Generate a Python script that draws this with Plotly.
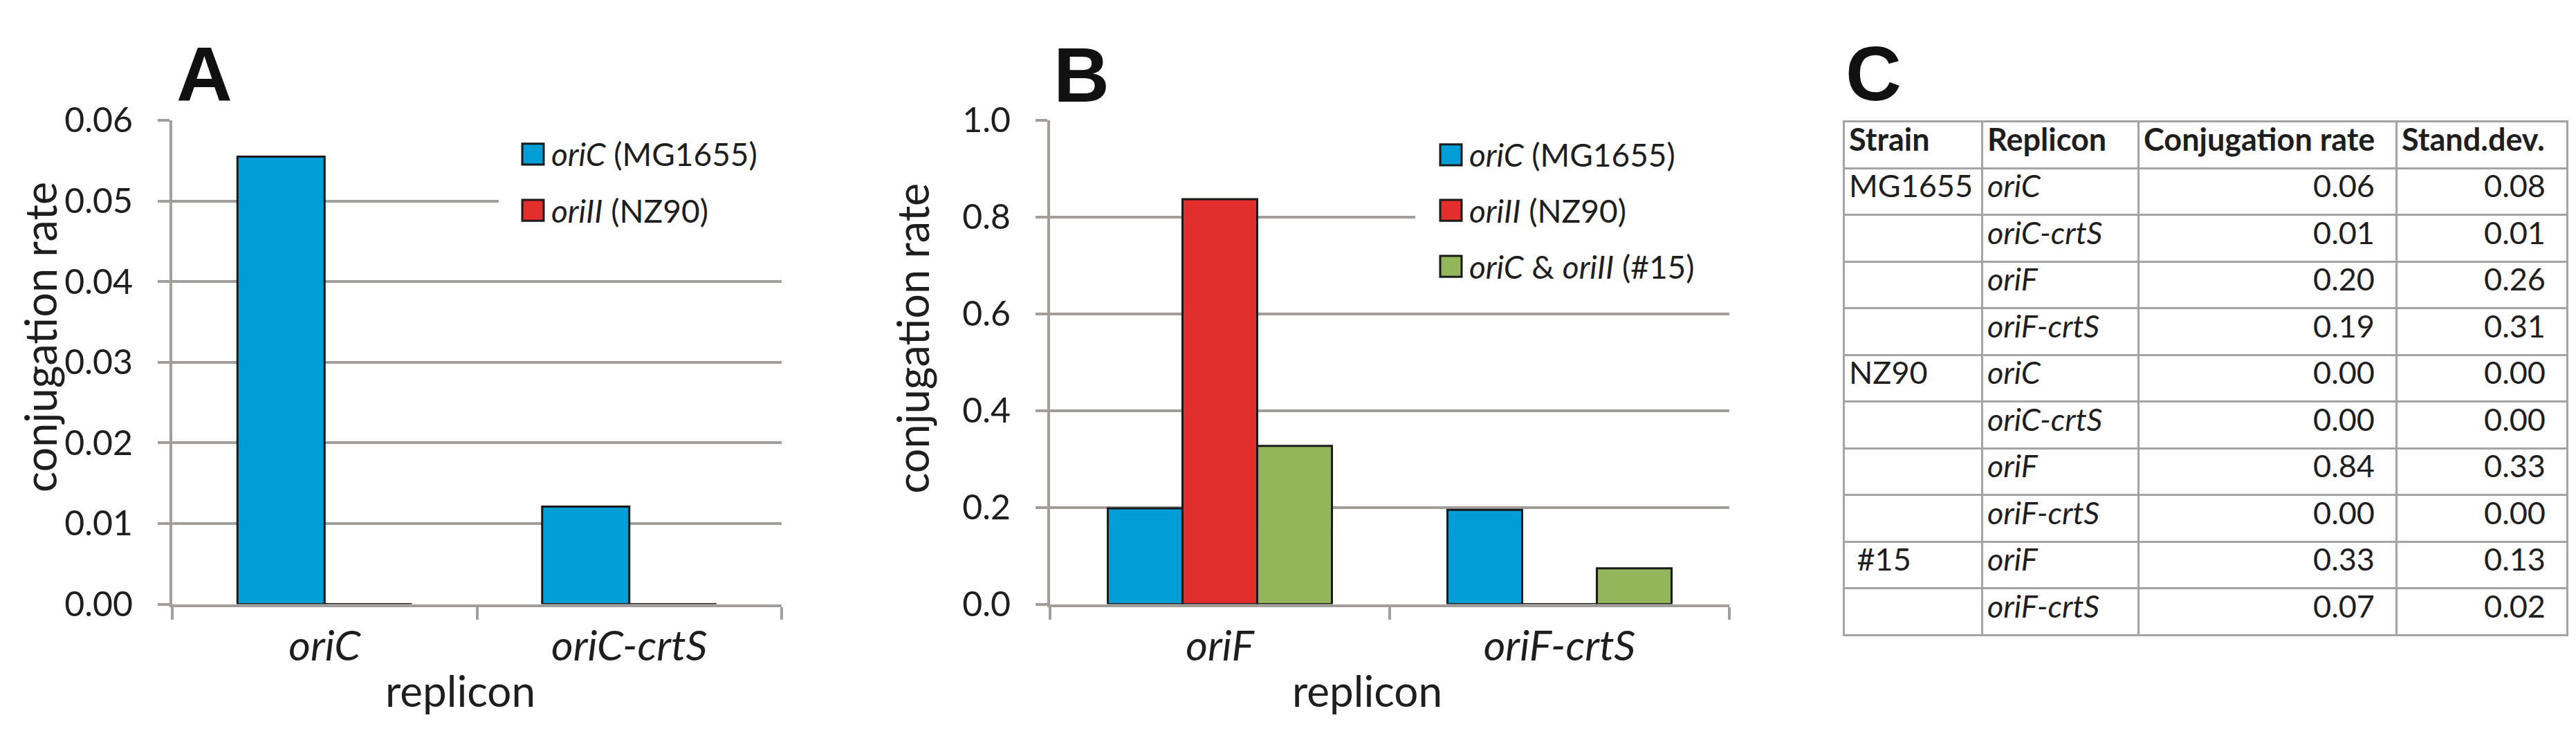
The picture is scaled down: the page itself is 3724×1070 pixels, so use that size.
import plotly.graph_objects as go

W, H = 3724, 1070

# panel A: conjugation rate by replicon
a_replicons = ["oriC", "oriC-crtS"]
a_mg1655 = [0.0555, 0.0121]
a_nz90 = [0.0, 0.0]
a_ticks = [0.00, 0.01, 0.02, 0.03, 0.04, 0.05, 0.06]

# panel B
b_replicons = ["oriF", "oriF-crtS"]
b_mg1655 = [0.198, 0.195]
b_nz90 = [0.837, 0.0]
b_n15 = [0.327, 0.074]
b_ticks = [0.0, 0.2, 0.4, 0.6, 0.8, 1.0]

series_names = ["<i>oriC</i> (MG1655)", "<i>oriII</i> (NZ90)", "<i>oriC</i> & <i>oriII</i> (#15)"]
series_colors = ["#009dd6", "#e32f2b", "#93b65b"]

# panel C: table
tbl_header = ["Strain", "Replicon", "Conjugation\u00a0rate", "Stand.dev."]
tbl_strain = ["MG1655", "", "", "", "NZ90", "", "", "", "\u00a0#15", ""]
tbl_replicon = ["oriC", "oriC-crtS", "oriF", "oriF-crtS", "oriC", "oriC-crtS",
                "oriF", "oriF-crtS", "oriF", "oriF-crtS"]
tbl_rate = [0.06, 0.01, 0.20, 0.19, 0.00, 0.00, 0.84, 0.00, 0.33, 0.07]
tbl_sd = [0.08, 0.01, 0.26, 0.31, 0.00, 0.00, 0.33, 0.00, 0.13, 0.02]

FONT = "Lato, 'Open Sans', sans-serif"
TXT = "#1e1e1e"
GRID = "#a29d99"
OUTLINE = "#1a1a1a"


def fx(p):
    return p / W


def fy(p):
    return 1 - p / H


fig = go.Figure()

# A bars
bw_a = 0.286
for i, vals in enumerate([a_mg1655, a_nz90]):
    fig.add_trace(go.Bar(
        x=a_replicons, y=vals, name=series_names[i],
        width=bw_a, offset=-bw_a + i * bw_a,
        marker=dict(color=series_colors[i], line=dict(color=OUTLINE, width=3)),
        xaxis="x", yaxis="y", showlegend=False,
    ))

# B bars
bw_b = 0.22
for i, vals in enumerate([b_mg1655, b_nz90, b_n15]):
    fig.add_trace(go.Bar(
        x=b_replicons, y=vals, name=series_names[i],
        width=bw_b, offset=-1.5 * bw_b + i * bw_b,
        marker=dict(color=series_colors[i], line=dict(color=OUTLINE, width=3)),
        xaxis="x2", yaxis="y2", showlegend=False,
    ))

# C table
fig.add_trace(go.Table(
    domain=dict(x=[fx(2657), fx(3703)], y=[0.0, fy(144)]),
    columnwidth=[200, 226, 373, 247],
    header=dict(
        values=tbl_header,
        align="left", height=67.5,
        fill=dict(color="white"),
        line=dict(color="#a3a3a3", width=3),
        font=dict(family=FONT, size=45, color=TXT, weight="bold"),
    ),
    cells=dict(
        values=[tbl_strain, tbl_replicon, tbl_rate, tbl_sd],
        format=[None, None, ".2f", ".2f"],
        suffix=[None, None, "\u00a0\u00a0", "\u00a0\u00a0"],
        align=["left", "left", "right", "right"], height=67.5,
        fill=dict(color="white"),
        line=dict(color="#a3a3a3", width=3),
        font=dict(family=FONT, size=45, color=TXT,
                  style=["normal", "italic", "normal", "normal"]),
    ),
))

y_common = dict(
    showgrid=True, gridcolor=GRID, gridwidth=4,
    showline=True, linecolor=GRID, linewidth=4,
    ticks="outside", ticklen=17, tickwidth=4, tickcolor=GRID,
    ticklabelstandoff=26, zeroline=False,
    tickfont=dict(family=FONT, size=50, color=TXT),
    domain=[fy(884), fy(142)],
)
x_common = dict(
    showline=True, linecolor=GRID, linewidth=4,
    ticks="outside", ticklen=18, tickwidth=4, tickcolor=GRID,
    tickson="boundaries", ticklabelstandoff=4,
    tickfont=dict(family=FONT, size=61, color=TXT, style="italic"),
    showgrid=False, zeroline=False,
)

fig.update_layout(
    width=W, height=H,
    margin=dict(l=0, r=0, t=0, b=0),
    paper_bgcolor="white", plot_bgcolor="white",
    barmode="group",
    xaxis=dict(domain=[fx(241), fx(1122)], anchor="y", **x_common),
    yaxis=dict(range=[0, 0.06], tickvals=a_ticks, tickformat=".2f", anchor="x", **y_common),
    xaxis2=dict(domain=[fx(1510), fx(2492)], anchor="y2", **x_common),
    yaxis2=dict(range=[0, 1.0], tickvals=b_ticks, tickformat=".1f", anchor="x2", **y_common),
)

# white boxes behind the legends hide the gridlines there
fig.add_shape(type="rect", xref="paper", yref="paper", x0=fx(713), x1=fx(1135), y0=fy(330), y1=fy(130),
              fillcolor="white", line=dict(width=0), layer="above")
fig.add_shape(type="rect", xref="paper", yref="paper", x0=fx(2038), x1=fx(2505), y0=fy(400), y1=fy(130),
              fillcolor="white", line=dict(width=0), layer="above")


def add_legend(x_px, y_centers, n):
    for k in range(n):
        yc = y_centers[k]
        fig.add_shape(type="rect", xref="paper", yref="paper",
                      x0=fx(x_px), x1=fx(x_px + 31), y0=fy(yc + 16), y1=fy(yc - 16),
                      fillcolor=series_colors[k], line=dict(color=OUTLINE, width=3),
                      layer="above")
        fig.add_annotation(xref="paper", yref="paper", x=fx(x_px + 40), y=fy(yc),
                           text=series_names[k], showarrow=False,
                           xanchor="left", yanchor="middle",
                           font=dict(family=FONT, size=46, color=TXT))


add_legend(747, [194, 280], 2)
add_legend(2074, [195, 280, 366], 3)

# axis titles
for xc, yc in [(50, 475), (1311, 477)]:
    fig.add_annotation(xref="paper", yref="paper", x=fx(xc), y=fy(yc), text="conjugation rate",
                       textangle=-90, showarrow=False, xanchor="center", yanchor="middle",
                       font=dict(family=FONT, size=63, color=TXT))
for xc in [657, 1969]:
    fig.add_annotation(xref="paper", yref="paper", x=fx(xc), y=fy(1016), text="replicon",
                       showarrow=False, xanchor="center", yanchor="middle",
                       font=dict(family=FONT, size=62, color=TXT))

# panel letters
for letter, xc, yc in [("A", 287, 72), ("B", 1555, 73), ("C", 2700, 70)]:
    fig.add_annotation(xref="paper", yref="paper", x=fx(xc), y=fy(yc), text="<b>%s</b>" % letter,
                       showarrow=False, xanchor="center", yanchor="middle",
                       font=dict(family="'Liberation Sans', Arial, sans-serif", size=112, color="#111111"))

fig.write_html("out.html")
